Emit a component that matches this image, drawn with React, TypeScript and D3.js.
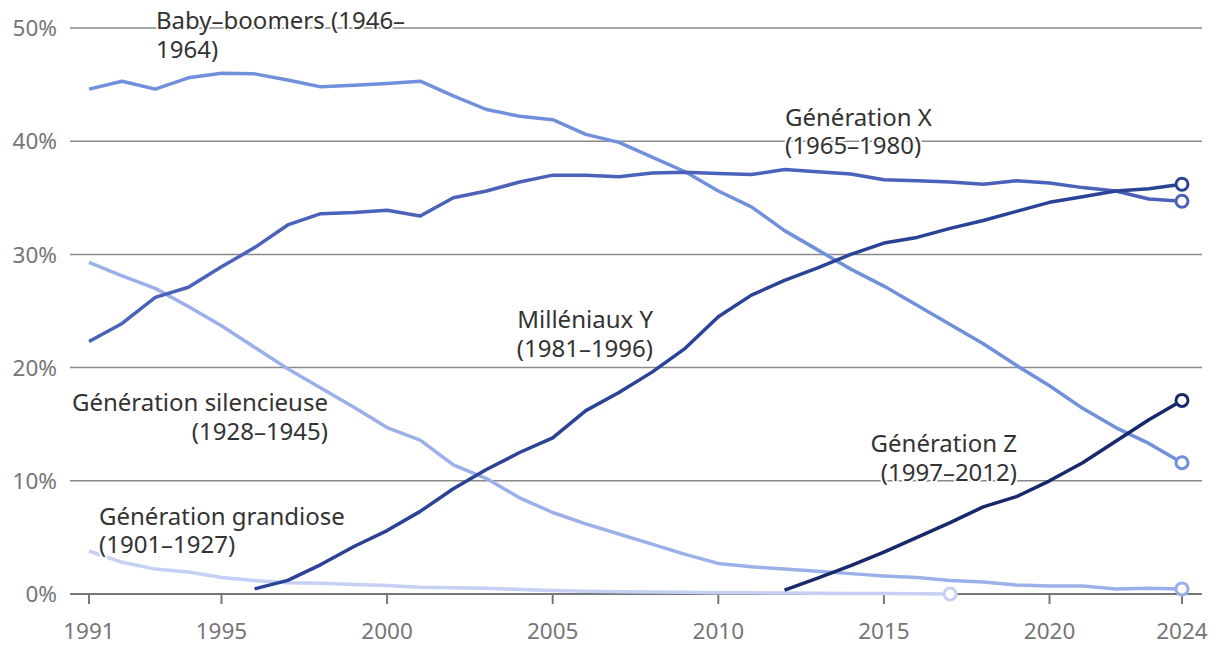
import React from 'react'
import * as d3 from 'd3'

const greatest = [3.8, 2.8, 2.2, 1.95, 1.45, 1.2, 1.0, 0.95, 0.85, 0.75, 0.6, 0.55, 0.5, 0.4, 0.3, 0.25, 0.2, 0.18, 0.15, 0.12, 0.1, 0.08, 0.07, 0.05, 0.04, 0.02, 0.0]
const silent = [29.3, 28.1, 27.0, 25.4, 23.7, 21.8, 19.9, 18.2, 16.5, 14.7, 13.6, 11.4, 10.2, 8.5, 7.2, 6.2, 5.3, 4.4, 3.5, 2.7, 2.4, 2.2, 2.0, 1.8, 1.6, 1.45, 1.2, 1.05, 0.8, 0.7, 0.7, 0.45, 0.5, 0.45]
const boomers = [44.6, 45.3, 44.6, 45.6, 46.0, 45.95, 45.4, 44.8, 44.95, 45.1, 45.3, 44.0, 42.8, 42.2, 41.9, 40.6, 39.9, 38.6, 37.3, 35.6, 34.2, 32.1, 30.4, 28.7, 27.2, 25.5, 23.8, 22.1, 20.2, 18.4, 16.4, 14.7, 13.3, 11.6]
const genX = [22.3, 23.9, 26.2, 27.1, 28.9, 30.6, 32.6, 33.6, 33.7, 33.9, 33.4, 35.0, 35.6, 36.4, 37.0, 37.0, 36.85, 37.2, 37.25, 37.15, 37.05, 37.5, 37.3, 37.1, 36.6, 36.5, 36.4, 36.2, 36.5, 36.3, 35.9, 35.6, 34.9, 34.7]
const millennials = [0.45, 1.2, 2.6, 4.2, 5.6, 7.3, 9.3, 11.0, 12.5, 13.8, 16.2, 17.8, 19.6, 21.7, 24.5, 26.4, 27.7, 28.8, 30.0, 31.0, 31.5, 32.3, 33.0, 33.8, 34.6, 35.1, 35.6, 35.8, 36.2]
const genZ = [0.35, 1.4, 2.5, 3.7, 5.0, 6.3, 7.7, 8.6, 10.0, 11.6, 13.5, 15.4, 17.1]

const yTicks = [0, 10, 20, 30, 40, 50]
const xTicks = [1991, 1995, 2000, 2005, 2010, 2015, 2020, 2024]

const series = [
  { name: 'greatest', start: 1991, values: greatest, color: '#c5d1f4' },
  { name: 'silent', start: 1991, values: silent, color: '#9bb0e8' },
  { name: 'boomers', start: 1991, values: boomers, color: '#7190dc' },
  { name: 'genX', start: 1991, values: genX, color: '#4a62b9' },
  { name: 'millennials', start: 1996, values: millennials, color: '#2b4396' },
  { name: 'genZ', start: 2012, values: genZ, color: '#17296b' },
]

const labels = [
  { lines: ['Baby–boomers (1946–', '1964)'], x: 156, y: 29, anchor: 'start' },
  { lines: ['Génération X', '(1965–1980)'], x: 785, y: 125.5, anchor: 'start' },
  { lines: ['Milléniaux Y', '(1981–1996)'], x: 653, y: 328, anchor: 'end' },
  { lines: ['Génération silencieuse', '(1928–1945)'], x: 328, y: 411, anchor: 'end' },
  { lines: ['Génération Z', '(1997–2012)'], x: 1017, y: 452, anchor: 'end' },
  { lines: ['Génération grandiose', '(1901–1927)'], x: 99, y: 524.5, anchor: 'start' },
]

export default function App() {
  const width = 1220
  const height = 662
  const x = d3.scaleLinear().domain([1991, 2024]).range([89, 1182])
  const y = d3.scaleLinear().domain([0, 50]).range([594, 28])
  const line = d3.line<[number, number]>()
    .x(d => x(d[0]))
    .y(d => y(d[1]))

  const font = '"Noto Sans", "Open Sans", sans-serif'

  return (
    <svg width={width} height={height} style={{ position: 'absolute', left: 0, top: 0, background: '#fff' }}>
      {/* grid */}
      {yTicks.map(t => (
        <g key={t}>
          <line x1={70} x2={1202} y1={y(t)} y2={y(t)} stroke={t === 0 ? '#777' : '#8a8a8a'} strokeWidth={t === 0 ? 2 : 1.5} />
          <text x={57} y={y(t)} dy="0.36em" textAnchor="end" fontFamily={font} fontSize={22.5} fill="#767676">{t}%</text>
        </g>
      ))}
      {xTicks.map(t => (
        <g key={t}>
          <line x1={x(t)} x2={x(t)} y1={594} y2={604} stroke="#777" strokeWidth={2} />
          <text x={x(t)} y={639} textAnchor="middle" fontFamily={font} fontSize={22.5} fill="#767676">{t}</text>
        </g>
      ))}
      {/* lines */}
      {series.map(s => {
        const pts = s.values.map((v, i) => [s.start + i, v] as [number, number])
        const last = pts[pts.length - 1]
        return (
          <g key={s.name}>
            <path d={line(pts) || ''} fill="none" stroke={s.color} strokeWidth={3.5} strokeLinejoin="round" />
            <circle cx={x(last[0])} cy={y(last[1])} r={6} fill="#fff" stroke={s.color} strokeWidth={3} />
          </g>
        )
      })}
      {/* labels */}
      {labels.map((l, i) => (
        <text key={i} x={l.x} y={l.y} textAnchor={l.anchor} fontFamily={font} fontSize={24} fill="#333"
          stroke="#fff" strokeWidth={4} paintOrder="stroke" strokeLinejoin="round">
          {l.lines.map((t, j) => (
            <tspan key={j} x={l.x} dy={j === 0 ? 0 : 28.5}>{t}</tspan>
          ))}
        </text>
      ))}
    </svg>
  )
}
